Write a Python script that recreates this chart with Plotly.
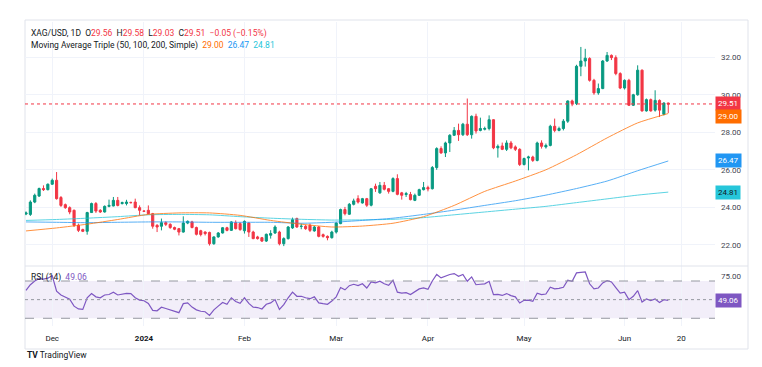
import pandas as pd
import plotly.graph_objects as go

# ---------------- data ----------------
open_prices = [
    23.64, 23.62, 24.28, 24.60, 25.00, 24.94, 25.23, 25.44, 24.52, 24.14,
    23.98, 23.84, 23.04, 22.81, 22.72, 23.72, 24.20, 23.84, 23.75, 24.05,
    24.07, 24.37, 24.20, 24.20, 24.26, 24.28, 23.98, 23.80, 23.84, 23.66,
    23.04, 22.99, 23.18, 23.09, 22.92, 22.86, 22.68, 23.16, 23.22, 22.92,
    22.75, 22.68, 22.66, 22.06, 22.42, 22.63, 22.91, 22.77, 23.17, 23.13,
    22.75, 23.16, 22.68, 22.42, 22.38, 22.20, 22.51, 22.63, 22.68, 22.06,
    22.33, 22.90, 23.40, 22.98, 22.99, 23.04, 22.74, 22.95, 22.54, 22.45,
    22.38, 22.68, 23.13, 23.88, 23.63, 24.16, 24.46, 24.23, 24.46, 24.11,
    25.12, 24.77, 25.17, 24.99, 24.85, 25.53, 24.77, 24.68, 24.68, 24.37,
    24.64, 24.94, 25.05, 24.99, 26.12, 27.13, 26.90, 27.43, 27.84, 28.10,
    27.87, 28.43, 27.87, 28.85, 28.10, 28.16, 28.20, 28.67, 27.17, 27.27,
    27.09, 27.43, 27.22, 27.09, 26.28, 26.63, 26.68, 26.50, 27.43, 27.22,
    27.30, 28.32, 28.10, 28.20, 28.59, 29.67, 29.53, 31.52, 31.80, 31.93,
    30.77, 30.10, 30.33, 31.80, 32.10, 31.98, 31.13, 30.36, 30.77, 29.44,
    30.00, 31.31, 29.14, 29.74, 29.18, 29.70, 28.96, 29.56]
high_prices = [
    23.78, 24.37, 24.73, 25.05, 25.17, 25.27, 25.53, 25.88, 24.60, 24.20,
    24.05, 23.88, 23.13, 22.86, 23.76, 24.25, 24.28, 23.90, 24.10, 24.41,
    24.55, 24.55, 24.30, 24.40, 24.30, 24.46, 24.10, 23.83, 24.10, 23.70,
    23.10, 23.40, 23.25, 23.15, 22.97, 22.90, 23.52, 23.30, 23.28, 22.97,
    22.80, 22.72, 22.70, 22.45, 22.68, 22.95, 22.96, 23.26, 23.30, 23.20,
    23.30, 23.20, 22.75, 22.48, 22.42, 22.60, 22.78, 23.04, 22.75, 22.40,
    23.00, 23.45, 23.45, 23.13, 23.05, 23.13, 23.00, 23.00, 22.60, 22.50,
    22.75, 23.20, 23.93, 24.02, 24.23, 24.46, 24.64, 24.50, 24.50, 25.03,
    25.26, 25.35, 25.35, 25.03, 25.60, 25.76, 24.82, 24.82, 24.82, 24.73,
    24.99, 25.35, 25.15, 26.20, 27.20, 27.25, 27.50, 27.90, 28.28, 28.46,
    28.50, 29.80, 28.90, 28.99, 28.78, 28.30, 28.90, 28.70, 27.35, 27.45,
    27.57, 27.54, 27.30, 27.15, 26.65, 26.75, 26.75, 27.50, 27.57, 27.40,
    28.40, 28.73, 28.30, 28.70, 29.70, 29.74, 31.60, 32.55, 32.45, 32.00,
    30.85, 30.60, 31.85, 32.28, 32.15, 32.10, 31.20, 30.82, 30.85, 30.05,
    31.57, 31.35, 29.80, 29.80, 30.24, 29.75, 29.60, 29.58]
low_prices = [
    23.58, 23.54, 24.22, 24.55, 24.87, 24.90, 25.20, 24.41, 24.02, 23.92,
    23.63, 22.95, 22.68, 22.68, 22.54, 23.70, 23.70, 23.70, 23.72, 24.00,
    24.05, 24.05, 24.15, 24.10, 24.20, 23.95, 23.57, 23.77, 23.62, 22.86,
    22.68, 22.77, 23.00, 22.85, 22.78, 22.50, 22.65, 23.10, 22.88, 22.50,
    22.45, 22.50, 21.96, 22.00, 22.38, 22.60, 22.72, 22.74, 22.82, 22.75,
    22.60, 22.42, 22.30, 22.28, 22.15, 22.15, 22.33, 22.58, 21.97, 21.93,
    22.28, 22.85, 22.90, 22.83, 22.80, 22.68, 22.70, 22.40, 22.38, 22.24,
    22.33, 22.60, 23.10, 23.57, 23.60, 24.10, 24.20, 24.20, 24.02, 24.05,
    24.82, 24.72, 24.90, 24.73, 24.80, 24.64, 24.41, 24.55, 24.37, 24.33,
    24.60, 24.90, 24.85, 24.95, 26.00, 26.85, 26.68, 26.95, 27.80, 27.54,
    27.80, 27.80, 27.66, 27.93, 28.05, 28.10, 28.10, 27.10, 26.65, 27.05,
    27.00, 27.10, 27.00, 26.20, 26.23, 25.97, 26.42, 26.45, 27.13, 27.13,
    27.25, 28.00, 28.05, 28.10, 28.50, 29.39, 29.45, 30.99, 31.50, 30.70,
    30.00, 30.00, 30.30, 31.75, 31.85, 31.04, 30.30, 30.28, 29.40, 29.40,
    29.95, 29.10, 29.10, 29.10, 29.10, 28.82, 28.90, 29.03]
close_prices = [
    23.70, 24.28, 24.64, 25.00, 24.94, 25.23, 25.44, 24.46, 24.10, 23.98,
    23.75, 23.04, 22.77, 22.72, 23.72, 24.20, 23.80, 23.75, 24.05, 24.10,
    24.37, 24.10, 24.25, 24.28, 24.25, 23.98, 23.84, 23.79, 23.66, 22.99,
    22.95, 23.18, 23.09, 22.92, 22.83, 22.68, 23.16, 23.25, 22.92, 22.56,
    22.55, 22.60, 22.06, 22.42, 22.63, 22.91, 22.77, 23.22, 22.86, 22.81,
    23.25, 22.68, 22.33, 22.33, 22.20, 22.56, 22.60, 22.95, 22.06, 22.33,
    22.95, 23.34, 22.95, 22.99, 22.86, 22.77, 22.95, 22.45, 22.45, 22.38,
    22.68, 23.16, 23.88, 23.66, 24.16, 24.34, 24.28, 24.46, 24.11, 24.99,
    24.99, 25.17, 24.96, 24.85, 25.53, 24.69, 24.64, 24.73, 24.41, 24.64,
    24.94, 25.05, 24.98, 26.12, 27.13, 26.90, 27.43, 27.84, 28.10, 27.87,
    28.43, 27.87, 28.85, 28.07, 28.20, 28.20, 28.67, 27.17, 27.25, 27.09,
    27.43, 27.17, 27.09, 26.28, 26.60, 26.68, 26.50, 27.43, 27.25, 27.30,
    28.32, 28.10, 28.20, 28.59, 29.67, 29.53, 31.52, 31.80, 31.95, 30.77,
    30.10, 30.33, 31.80, 32.10, 31.98, 31.13, 30.36, 30.77, 29.44, 30.00,
    31.31, 29.14, 29.74, 29.14, 29.70, 29.18, 29.56, 29.51]

rsi_values = [
    60, 66, 70, 72.5, 72, 73, 75.8, 59, 55, 53,
    50.5, 43, 40, 39.5, 52, 56.5, 53, 52, 55, 55.5,
    58, 55, 56, 56.8, 56.5, 52, 49.5, 48.8, 46, 38.5,
    38, 41.8, 40.5, 39, 38, 36, 45.7, 46.5, 42, 39,
    37.5, 37, 33, 39, 43, 47, 45, 52, 48, 46,
    52, 46, 42, 41.5, 40, 45, 46.5, 50, 39.5, 44.6,
    52, 58, 53.6, 53.6, 52, 51, 53, 46.5, 45.7, 45,
    48.5, 53, 63, 60.5, 65, 66.5, 65, 67, 62.5, 69,
    68, 69.7, 67, 65.4, 70.8, 58, 57, 57.5, 55.4, 58,
    61.5, 62.5, 61, 70, 77, 73.3, 75.5, 77, 78, 75,
    77, 69.7, 74.4, 66, 66.5, 67, 69.7, 55.4, 55.6, 54.5,
    56.5, 54.3, 53, 46.4, 49.3, 49.5, 48.2, 57, 55.4, 56,
    63.3, 61.5, 62, 63.3, 70.8, 69.7, 78.7, 79.2, 79.7, 67,
    61.5, 62.5, 68, 70.4, 69, 63, 57, 58, 50, 53.6,
    59.7, 47.5, 50.7, 49, 50.7, 47, 50, 49.06]

# moving averages, read every 7th bar
ma_bar = [0, 7, 14, 21, 28, 35, 42, 49, 56, 63, 70, 77, 84, 91, 98, 105,
          112, 119, 126, 133, 140, 147]
sma50 = [22.74, 22.90, 23.10, 23.35, 23.62, 23.70, 23.70, 23.57, 23.30, 23.10,
         22.95, 23.00, 23.15, 23.50, 24.10, 24.85, 25.40, 26.00, 26.80, 27.70,
         28.50, 29.00]
sma100 = [23.22, 23.20, 23.18, 23.20, 23.22, 23.22, 23.20, 23.20, 23.20, 23.15,
          23.20, 23.30, 23.42, 23.62, 23.85, 24.10, 24.35, 24.65, 25.00, 25.40,
          25.95, 26.47]
sma200 = [23.30, 23.35, 23.42, 23.50, 23.60, 23.62, 23.60, 23.50, 23.42, 23.36,
          23.32, 23.33, 23.36, 23.45, 23.60, 23.75, 23.90, 24.05, 24.25, 24.45,
          24.65, 24.81]

price_ticks = [22, 24, 26, 28, 30, 32]
last_close = 29.51
rsi_last = 49.06

# ---------------- geometry (page pixels; page body has an 8px margin) ----------------
OFF = 8
PAGE_W, PAGE_H = 762, 367
W, H = PAGE_W - OFF, PAGE_H - OFF
PL, PR, PT, PB = 25, 715, 22, 326      # plot area in page pixels
SPLIT = 266                              # pane separator (page px)
ML, MT = PL - OFF, PT - OFF
MR, MB = W - (PR - OFF), H - (PB - OFF)
PW, PH = PR - PL, PB - PT


def px(x):
    return (x - PL) / PW


def py(y):
    return (PB - y) / PH


main_dom = [py(SPLIT), 1]
rsi_dom = [0, py(SPLIT)]

n = len(close_prices)
dates = pd.bdate_range("2023-11-23", periods=n)
xs = list(range(n))

tick_idx, tick_txt = [], []
for i in range(1, n):
    if dates[i].month != dates[i - 1].month:
        tick_idx.append(i)
        tick_txt.append("2024" if dates[i].month == 1 else dates[i].strftime("%b"))
ext = pd.bdate_range(dates[0], "2024-06-20")
tick_idx.append(len(ext) - 1)
tick_txt.append("20")
tick_txt = ["<b>2024</b>" if t == "2024" else t for t in tick_txt]

GREEN = "#089981"
RED = "#F23645"
ORANGE = "#FF6D00"
BLUE = "#2196F3"
CYAN = "#26C6DA"
PURPLE = "#7E57C2"
GRID = "#F0F3FA"
TXT = "#131722"
FONT = "Roboto"

fig = go.Figure()

fig.add_trace(go.Candlestick(
    x=xs, open=open_prices, high=high_prices, low=low_prices, close=close_prices,
    increasing=dict(line=dict(color=GREEN, width=1), fillcolor=GREEN),
    decreasing=dict(line=dict(color=RED, width=1), fillcolor=RED),
    whiskerwidth=0, xaxis="x", yaxis="y", showlegend=False, hoverinfo="skip"))

for vals, col in [(sma200, CYAN), (sma100, BLUE), (sma50, ORANGE)]:
    fig.add_trace(go.Scatter(
        x=ma_bar, y=vals, mode="lines",
        line=dict(color=col, width=1, shape="spline", smoothing=0.6),
        opacity=0.75, xaxis="x", yaxis="y", showlegend=False, hoverinfo="skip"))

fig.add_trace(go.Scatter(
    x=xs, y=rsi_values, mode="lines", line=dict(color=PURPLE, width=1.2),
    xaxis="x2", yaxis="y2", showlegend=False, hoverinfo="skip"))

xr = [-0.23, 157.7]
fig.update_layout(
    width=W, height=H, autosize=False,
    margin=dict(l=ML, r=MR, t=MT, b=MB, pad=0),
    paper_bgcolor="white", plot_bgcolor="white",
    font=dict(family=FONT, size=8, color=TXT),
    xaxis=dict(domain=[0, 1], anchor="y", range=xr, tickvals=tick_idx,
               showticklabels=False, showgrid=True, gridcolor=GRID, gridwidth=1,
               zeroline=False, showline=False, ticks="",
               rangeslider=dict(visible=False)),
    xaxis2=dict(domain=[0, 1], anchor="y2", matches="x", range=xr,
                tickvals=tick_idx, ticktext=tick_txt, showgrid=True,
                gridcolor=GRID, gridwidth=1, zeroline=False, showline=False,
                ticks="", ticklabelstandoff=6,
                tickfont=dict(family=FONT, size=8, color=TXT)),
    yaxis=dict(domain=main_dom, anchor="x", side="right", range=[20.87, 33.88],
               tickvals=price_ticks, ticktext=[f"{v:.2f}" for v in price_ticks],
               showgrid=True, gridcolor=GRID, zeroline=False, showline=False,
               ticks="", ticklabelstandoff=5,
               tickfont=dict(family=FONT, size=8, color="#434651")),
    yaxis2=dict(domain=rsi_dom, anchor="x2", side="right", range=[21.7, 86.1],
                tickvals=[75], ticktext=["75.00"], showgrid=False,
                zeroline=False, showline=False, ticks="", ticklabelstandoff=5,
                tickfont=dict(family=FONT, size=8, color="#434651")),
)

shapes = [
    # RSI band and levels
    dict(type="rect", xref="paper", yref="y2", x0=0, x1=1, y0=30, y1=70,
         fillcolor="rgba(126,87,194,0.1)", line=dict(width=0), layer="below"),
    dict(type="line", xref="paper", yref="y2", x0=0, x1=1, y0=70, y1=70,
         line=dict(color="#9598A1", width=1, dash="dash")),
    dict(type="line", xref="paper", yref="y2", x0=0, x1=1, y0=30, y1=30,
         line=dict(color="#9598A1", width=1, dash="dash")),
    dict(type="line", xref="paper", yref="y2", x0=0, x1=1, y0=50, y1=50,
         line=dict(color="#9598A1", width=1, dash="dot")),
    # last price dotted line
    dict(type="line", xref="paper", yref="y", x0=0, x1=1, y0=last_close,
         y1=last_close, line=dict(color=RED, width=1, dash="dot")),
    # pane separator
    dict(type="line", xref="paper", yref="paper", x0=0, x1=px(748),
         y0=py(SPLIT), y1=py(SPLIT), line=dict(color="#E0E3EB", width=1)),
    # chart frame
    dict(type="rect", xref="paper", yref="paper", x0=0, x1=px(748),
         y0=py(349), y1=py(20), line=dict(color="#E0E3EB", width=1),
         fillcolor="rgba(0,0,0,0)", layer="below"),
]
fig.update_layout(shapes=shapes)


def c(text, col):
    return f'<span style="color:{col}">{text}</span>'


sp = "\u00a0"
line1 = ("XAG/USD, 1D" + sp * 2 + "O" + c("29.56", RED) + sp * 2 + "H" + c("29.58", RED)
         + sp * 2 + "L" + c("29.03", RED) + sp * 2 + "C" + c("29.51", RED) + sp * 2
         + c("\u22120.05 (\u22120.15%)", RED))
line2 = ("Moving Average Triple (50, 100, 200, Simple)" + sp * 2 + c("29.00", ORANGE)
         + sp * 2 + c("26.47", BLUE) + sp * 2 + c("24.81", CYAN))

ann = [
    dict(text=line1, x=px(29), y=py(33), xref="paper", yref="paper",
         xanchor="left", yanchor="middle", showarrow=False,
         font=dict(family=FONT, size=8.5, color=TXT)),
    dict(text=line2, x=px(29), y=py(45), xref="paper", yref="paper",
         xanchor="left", yanchor="middle", showarrow=False,
         font=dict(family=FONT, size=8.5, color=TXT)),
    dict(text="RSI (14)" + sp * 2 + c(f"{rsi_last:.2f}", PURPLE), x=px(29), y=py(277),
         xref="paper", yref="paper", xanchor="left", yanchor="middle",
         showarrow=False, font=dict(family=FONT, size=8.5, color=TXT)),
    dict(text="<b>TV</b> TradingView", x=px(25), y=py(355), xref="paper",
         yref="paper", xanchor="left", yanchor="middle", showarrow=False,
         font=dict(family=FONT, size=8.5, color=TXT)),
]

badges = [
    (f"{last_close:.2f}", last_close, RED, "white", "y"),
    (f"{sma50[-1]:.2f}", 28.84, ORANGE, "white", "y"),
    (f"{sma100[-1]:.2f}", sma100[-1], BLUE, "white", "y"),
    (f"{sma200[-1]:.2f}", sma200[-1], CYAN, TXT, "y"),
    (f"{rsi_last:.2f}", rsi_last, PURPLE, "white", "y2"),
]
for txt, yv, bg, fc, yr in badges:
    ann.append(dict(text=txt, x=1.0, y=yv, xref="paper", yref=yr,
                    xanchor="left", yanchor="middle", showarrow=False,
                    bgcolor=bg, borderpad=2,
                    font=dict(family=FONT, size=8, color=fc)))

fig.update_layout(annotations=ann)

fig.write_html("out.html")
